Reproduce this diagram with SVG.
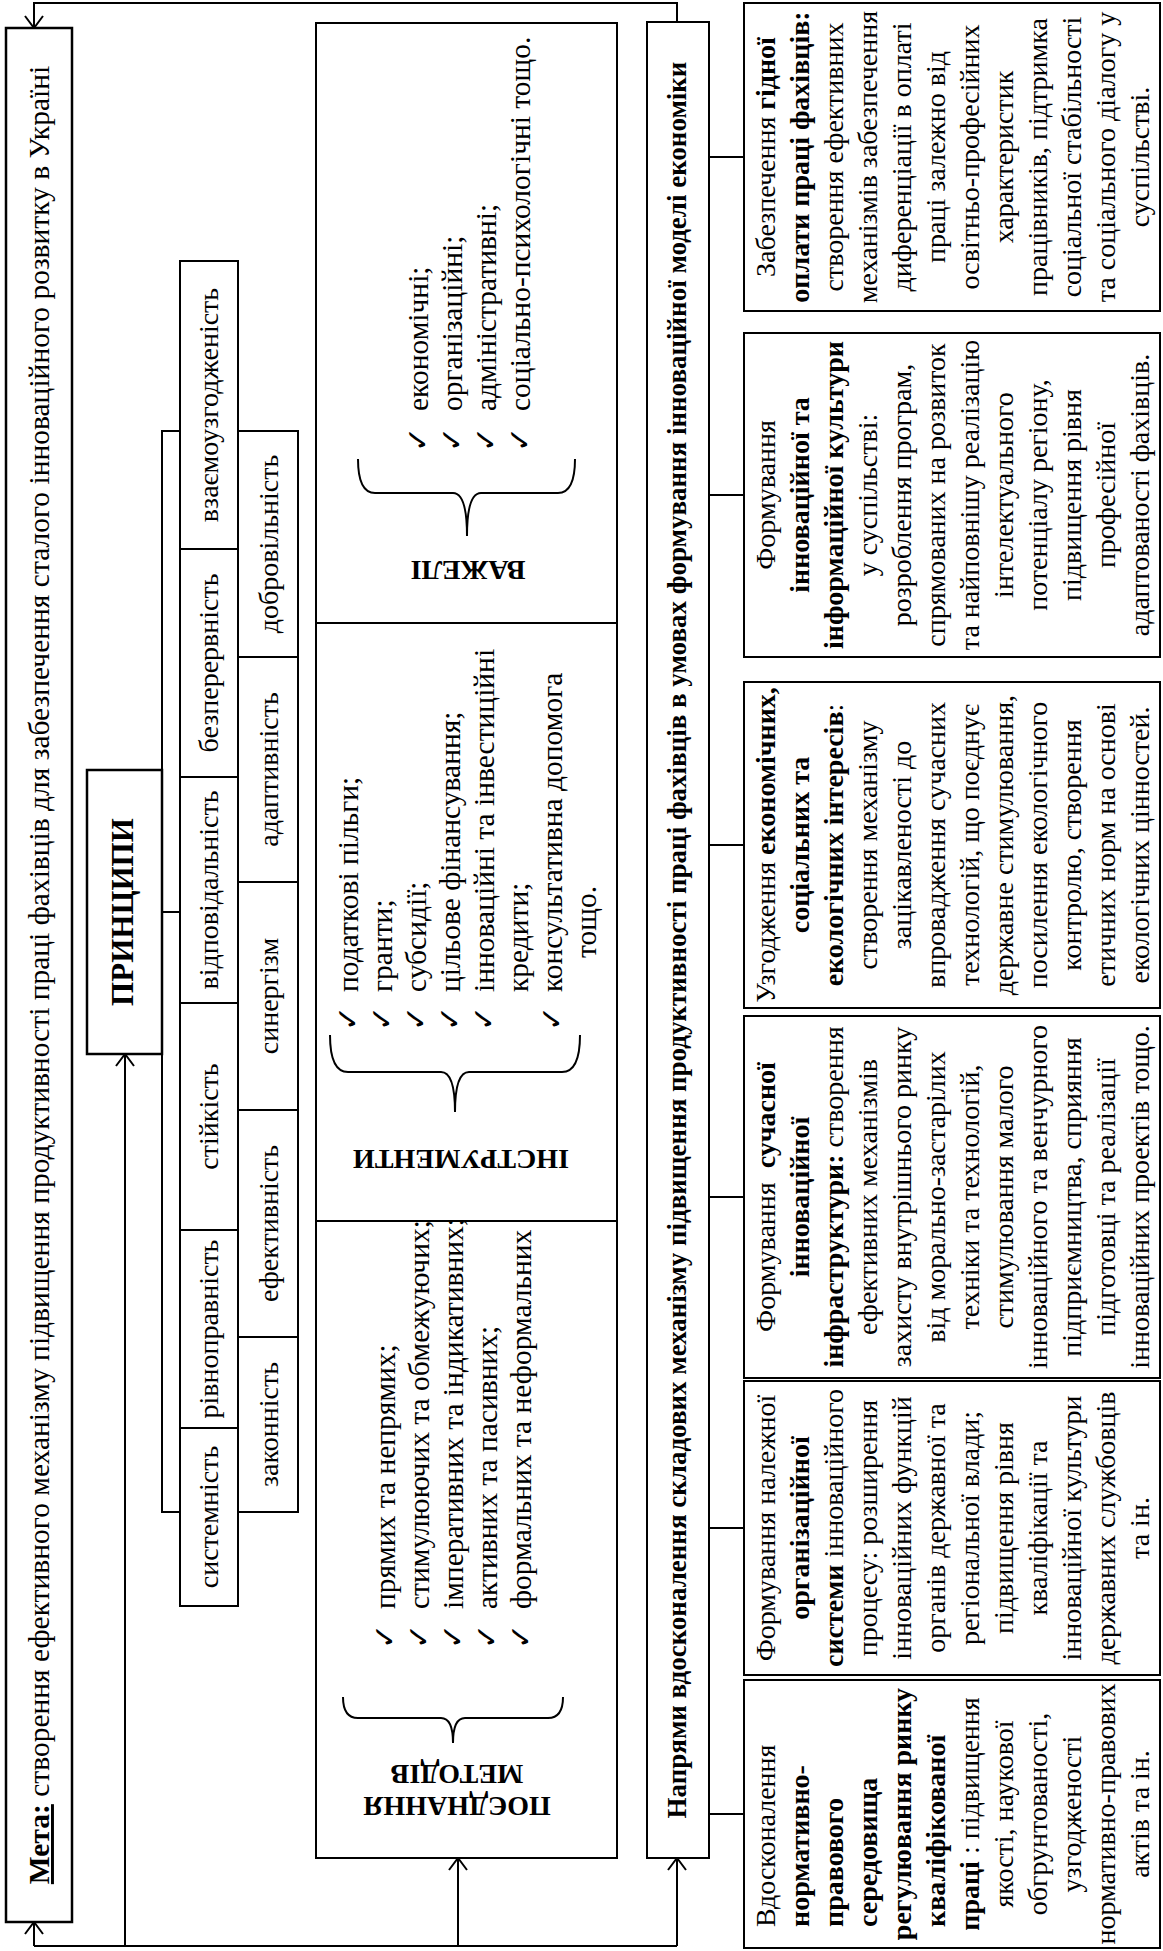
<svg xmlns="http://www.w3.org/2000/svg" width="1163" height="1951" viewBox="0 0 1163 1951">
<defs>
<style>
.bx{fill:#fff;stroke:#000;stroke-width:2}
.ln{fill:none;stroke:#000;stroke-width:2}
text{font-family:"Liberation Serif","Times New Roman",serif;fill:#000;font-size:28px}
.c{text-anchor:middle}
.b{font-weight:bold}
.lg{font-size:29.5px}
.chk{font-family:"DejaVu Sans",sans-serif;font-size:30px;font-weight:bold}
</style>
<marker id="ah" viewBox="0 0 14 20" refX="13" refY="10" markerWidth="14" markerHeight="20" markerUnits="userSpaceOnUse" orient="auto">
<path d="M1,1 L13,10 L1,19" fill="none" stroke="#000" stroke-width="2"/>
</marker>
</defs>
<rect width="1163" height="1951" fill="#fff"/>
<g transform="translate(0,1951) rotate(-90)">

<g id="connectors">
<path class="ln" d="M1929,677 L1948,677 L1948,34 L1923,34" marker-end="url(#ah)"/>
<path class="ln" d="M5,34 L5,677"/>
<path class="ln" d="M5,34 L29,34" marker-end="url(#ah)"/>
<path class="ln" d="M5,125 L897,125" marker-end="url(#ah)"/>
<path class="ln" d="M5,458 L93,458" marker-end="url(#ah)"/>
<path class="ln" d="M5,677 L93,677" marker-end="url(#ah)"/>
<path class="ln" d="M439,180 L439,162 L1520,162 L1520,180 M1039,162 L1039,180"/>
<path class="ln" d="M1794,709 L1794,744 M1456,709 L1456,744 M1106,709 L1106,744 M754,709 L754,744 M423,709 L423,744 M137,709 L137,744"/>
</g>

<g id="meta">
<rect class="bx" x="29" y="6" width="1894" height="66" style="stroke-width:2.5"/>
<text class="c lg" x="976" y="49"><tspan class="b" text-decoration="underline">Мета:</tspan> створення ефективного механізму підвищення продуктивності праці фахівців для забезпечення сталого інноваційного розвитку в Україні</text>
</g>

<g id="pryntsypy">
<rect class="bx" x="897" y="87" width="284" height="75" style="stroke-width:2.5"/>
<text class="c b" x="1039" y="133" style="font-size:31px">ПРИНЦИПИ</text>
</g>

<g id="pryntsypy-list">
<rect class="bx" x="1402" y="180" width="288" height="58"/><text class="c" x="1546" y="218">взаємоузгодженість</text>
<rect class="bx" x="1174" y="180" width="228" height="58"/><text class="c" x="1288" y="218">безперервність</text>
<rect class="bx" x="948" y="180" width="226" height="58"/><text class="c" x="1061" y="218">відповідальність</text>
<rect class="bx" x="721" y="180" width="227" height="58"/><text class="c" x="834.5" y="218">стійкість</text>
<rect class="bx" x="523" y="180" width="198" height="58"/><text class="c" x="622" y="218">рівноправність</text>
<rect class="bx" x="345" y="180" width="178" height="58"/><text class="c" x="434" y="218">системність</text>
<rect class="bx" x="1294" y="238" width="226" height="60"/><text class="c" x="1407" y="278">добровільність</text>
<rect class="bx" x="1069" y="238" width="225" height="60"/><text class="c" x="1181.5" y="278">адаптивність</text>
<rect class="bx" x="841" y="238" width="228" height="60"/><text class="c" x="955" y="278">синергізм</text>
<rect class="bx" x="614" y="238" width="227" height="60"/><text class="c" x="727.5" y="278">ефективність</text>
<rect class="bx" x="439" y="238" width="175" height="60"/><text class="c" x="526.5" y="278">законність</text>
</g>

<g id="frame">
<rect class="bx" x="93" y="316" width="1835" height="301"/>
<path class="ln" d="M730,316 L730,617 M1328,316 L1328,617"/>
</g>

<g id="metody">
<text class="c b" transform="translate(154,457) rotate(-90)">ПОЄДНАННЯ</text>
<text class="c b" transform="translate(186,457) rotate(-90)">МЕТОДІВ</text>
<path class="ln" d="M254,343 Q233,343 233,358 L233,441 Q233,453 208,453 Q233,453 233,465 L233,548 Q233,563 254,563"/>
<text class="chk" x="302" y="395">✓</text><text class="chk" x="302" y="429">✓</text><text class="chk" x="302" y="463">✓</text><text class="chk" x="302" y="497">✓</text><text class="chk" x="302" y="531">✓</text>
<text class="lg" x="342" y="395">прямих та непрямих;</text>
<text class="lg" x="342" y="429">стимулюючих та обмежуючих;</text>
<text class="lg" x="342" y="463">імперативних та індикативних;</text>
<text class="lg" x="342" y="497">активних та пасивних;</text>
<text class="lg" x="342" y="531">формальних та неформальних</text>
</g>

<g id="instrumenty">
<text class="c b" transform="translate(801,461) rotate(-90)">ІНСТРУМЕНТИ</text>
<path class="ln" d="M916,330 Q879,330 879,348 L879,441 Q879,455 839,455 Q879,455 879,469 L879,562 Q879,580 916,580"/>
<text class="chk" x="920" y="358">✓</text><text class="chk" x="920" y="392">✓</text><text class="chk" x="920" y="426">✓</text><text class="chk" x="920" y="460">✓</text><text class="chk" x="920" y="494">✓</text><text class="chk" x="920" y="562">✓</text>
<text class="lg" x="959" y="358">податкові пільги;</text>
<text class="lg" x="959" y="392">гранти;</text>
<text class="lg" x="959" y="426">субсидії;</text>
<text class="lg" x="959" y="460">цільове фінансування;</text>
<text class="lg" x="959" y="494">інноваційні та інвестиційні</text>
<text class="lg" x="959" y="528">кредити;</text>
<text class="lg" x="959" y="562">консультативна допомога</text>
<text class="lg" x="993" y="596">тощо.</text>
</g>

<g id="vazheli">
<text class="c b" transform="translate(1390,468) rotate(-90)">ВАЖЕЛІ</text>
<path class="ln" d="M1492,358 Q1458,358 1458,375 L1458,453 Q1458,467 1415,467 Q1458,467 1458,481 L1458,558 Q1458,575 1492,575"/>
<text class="chk" x="1499" y="428">✓</text><text class="chk" x="1499" y="462">✓</text><text class="chk" x="1499" y="496">✓</text><text class="chk" x="1499" y="530">✓</text>
<text class="lg" x="1540" y="428">економічні;</text>
<text class="lg" x="1540" y="462">організаційні;</text>
<text class="lg" x="1540" y="496">адміністративні;</text>
<text class="lg" x="1540" y="530">соціально-психологічні тощо.</text>
</g>

<g id="napriamy">
<rect class="bx" x="93" y="647" width="1836" height="62"/>
<text class="c b" x="1011" y="686" style="font-size:27px">Напрями вдосконалення складових механізму підвищення продуктивності праці фахівців в умовах формування інноваційної моделі економіки</text>
</g>

<g id="box1">
<rect class="bx" x="1640" y="744" width="308" height="416"/>
<text class="c" x="1794" y="775">Забезпечення <tspan class="b">гідної</tspan></text>
<text class="c b" x="1794" y="809">оплати праці фахівців:</text>
<text class="c" x="1794" y="843">створення ефективних</text>
<text class="c" x="1794" y="877">механізмів забезпечення</text>
<text class="c" x="1794" y="911">диференціації в оплаті</text>
<text class="c" x="1794" y="945">праці залежно від</text>
<text class="c" x="1794" y="979">освітньо-професійних</text>
<text class="c" x="1794" y="1013">характеристик</text>
<text class="c" x="1794" y="1047">працівників, підтримка</text>
<text class="c" x="1794" y="1081">соціальної стабільності</text>
<text class="c" x="1794" y="1115">та соціального діалогу у</text>
<text class="c" x="1794" y="1149">суспільстві.</text>
</g>

<g id="box2">
<rect class="bx" x="1294" y="744" width="324" height="416"/>
<text class="c" x="1456" y="775">Формування</text>
<text class="c b" x="1456" y="809">інноваційної та</text>
<text class="c b" x="1456" y="843">інформаційної культури</text>
<text class="c" x="1456" y="877">у суспільстві:</text>
<text class="c" x="1456" y="911">розроблення програм,</text>
<text class="c" x="1456" y="945">спрямованих на розвиток</text>
<text class="c" x="1456" y="979">та найповнішу реалізацію</text>
<text class="c" x="1456" y="1013">інтелектуального</text>
<text class="c" x="1456" y="1047">потенціалу регіону,</text>
<text class="c" x="1456" y="1081">підвищення рівня</text>
<text class="c" x="1456" y="1115">професійної</text>
<text class="c" x="1456" y="1149">адаптованості фахівців.</text>
</g>

<g id="box3">
<rect class="bx" x="943" y="744" width="326" height="416"/>
<text class="c" x="1106" y="775">Узгодження <tspan class="b">економічних,</tspan></text>
<text class="c b" x="1106" y="809">соціальних та</text>
<text class="c" x="1106" y="843"><tspan class="b">екологічних інтересів</tspan>:</text>
<text class="c" x="1106" y="877">створення механізму</text>
<text class="c" x="1106" y="911">зацікавленості до</text>
<text class="c" x="1106" y="945">впровадження сучасних</text>
<text class="c" x="1106" y="979">технологій, що поєднує</text>
<text class="c" x="1106" y="1013">державне стимулювання,</text>
<text class="c" x="1106" y="1047">посилення екологічного</text>
<text class="c" x="1106" y="1081">контролю, створення</text>
<text class="c" x="1106" y="1115">етичних норм на основі</text>
<text class="c" x="1106" y="1149">екологічних цінностей.</text>
</g>

<g id="box4">
<rect class="bx" x="573" y="744" width="362" height="416"/>
<text class="c" x="754" y="775" xml:space="preserve">Формування  <tspan class="b">сучасної</tspan></text>
<text class="c b" x="754" y="809">інноваційної</text>
<text class="c" x="754" y="843"><tspan class="b">інфраструктури:</tspan> створення</text>
<text class="c" x="754" y="877">ефективних механізмів</text>
<text class="c" x="754" y="911">захисту внутрішнього ринку</text>
<text class="c" x="754" y="945">від морально-застарілих</text>
<text class="c" x="754" y="979">техніки та технологій,</text>
<text class="c" x="754" y="1013">стимулювання малого</text>
<text class="c" x="754" y="1047">інноваційного та венчурного</text>
<text class="c" x="754" y="1081">підприємництва, сприяння</text>
<text class="c" x="754" y="1115">підготовці та реалізації</text>
<text class="c" x="754" y="1149">інноваційних проектів тощо.</text>
</g>

<g id="box5">
<rect class="bx" x="276" y="744" width="294" height="416"/>
<text class="c" x="423" y="775">Формування належної</text>
<text class="c b" x="423" y="809">організаційної</text>
<text class="c" x="423" y="843"><tspan class="b">системи</tspan> інноваційного</text>
<text class="c" x="423" y="877">процесу: розширення</text>
<text class="c" x="423" y="911">інноваційних функцій</text>
<text class="c" x="423" y="945">органів державної та</text>
<text class="c" x="423" y="979">регіональної влади;</text>
<text class="c" x="423" y="1013">підвищення рівня</text>
<text class="c" x="423" y="1047">кваліфікації та</text>
<text class="c" x="423" y="1081">інноваційної культури</text>
<text class="c" x="423" y="1115">державних службовців</text>
<text class="c" x="423" y="1149">та ін.</text>
</g>

<g id="box6">
<rect class="bx" x="3" y="744" width="268" height="416"/>
<text x="24" y="775">Вдосконалення</text>
<text class="b" x="24" y="809">нормативно-</text>
<text class="b" x="24" y="843">правового</text>
<text class="b" x="24" y="877">середовища</text>
<text class="c b" x="137" y="911">регулювання ринку</text>
<text class="b" x="24" y="945">кваліфікованої</text>
<text class="c" x="137" y="979"><tspan class="b">праці</tspan> : підвищення</text>
<text class="c" x="137" y="1013">якості, наукової</text>
<text class="c" x="137" y="1047">обгрунтованості,</text>
<text class="c" x="137" y="1081">узгодженості</text>
<text class="c" x="137" y="1115">нормативно-правових</text>
<text class="c" x="137" y="1149">актів та ін.</text>
</g>

</g>
</svg>
